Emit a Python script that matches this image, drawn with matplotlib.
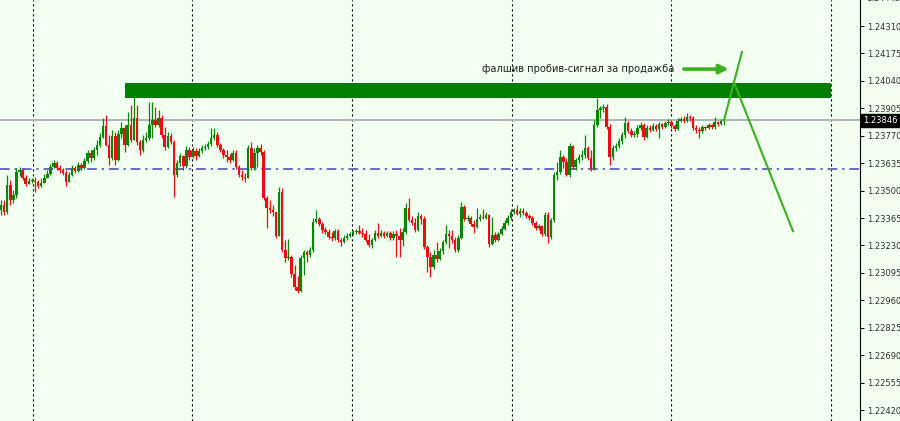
import matplotlib.pyplot as plt
import numpy as np

# bars, open of each bar = close of the previous one
first_open = 1.23404
closes = [
    1.23429, 1.23394, 1.23527, 1.23454, 1.23478, 1.23591, 1.23601, 1.23562, 1.23532, 1.23547,
    1.23547, 1.23542, 1.23522, 1.23537, 1.23562, 1.23582, 1.23616, 1.23636, 1.23611, 1.23601,
    1.23586, 1.23542, 1.23577, 1.23611, 1.23596, 1.23626, 1.23611, 1.23646, 1.23685, 1.23660,
    1.23700, 1.23724, 1.23764, 1.23818, 1.23724, 1.23660, 1.23769, 1.23650, 1.23778, 1.23808,
    1.23724, 1.23823, 1.23749, 1.23857, 1.23739, 1.23700, 1.23749, 1.23759, 1.23823, 1.23847,
    1.23823, 1.23857, 1.23774, 1.23714, 1.23769, 1.23739, 1.23577, 1.23636, 1.23670, 1.23621,
    1.23700, 1.23665, 1.23695, 1.23670, 1.23695, 1.23710, 1.23714, 1.23729, 1.23759, 1.23774,
    1.23724, 1.23700, 1.23675, 1.23665, 1.23650, 1.23685, 1.23616, 1.23577, 1.23567, 1.23562,
    1.23710, 1.23611, 1.23685, 1.23710, 1.23690, 1.23463, 1.23414, 1.23404, 1.23394, 1.23276,
    1.23493, 1.23207, 1.23168, 1.23173, 1.23089, 1.23025, 1.23006, 1.23168, 1.23198, 1.23183,
    1.23207, 1.23345, 1.23360, 1.23335, 1.23306, 1.23296, 1.23271, 1.23267, 1.23301, 1.23257,
    1.23247, 1.23267, 1.23276, 1.23286, 1.23296, 1.23301, 1.23291, 1.23286, 1.23257, 1.23232,
    1.23257, 1.23291, 1.23276, 1.23291, 1.23276, 1.23291, 1.23267, 1.23286, 1.23276, 1.23257,
    1.23296, 1.23414, 1.23355, 1.23340, 1.23306, 1.23375, 1.23360, 1.23222, 1.23173, 1.23124,
    1.23183, 1.23163, 1.23203, 1.23247, 1.23286, 1.23276, 1.23257, 1.23207, 1.23267, 1.23419,
    1.23360, 1.23365, 1.23335, 1.23321, 1.23360, 1.23370, 1.23365, 1.23380, 1.23237, 1.23281,
    1.23257, 1.23286, 1.23311, 1.23340, 1.23365, 1.23394, 1.23404, 1.23385, 1.23399, 1.23390,
    1.23375, 1.23365, 1.23340, 1.23316, 1.23326, 1.23286, 1.23380, 1.23271, 1.23355, 1.23577,
    1.23591, 1.23665, 1.23641, 1.23577, 1.23719, 1.23616, 1.23650, 1.23665, 1.23675, 1.23710,
    1.23660, 1.23606, 1.23823, 1.23897, 1.23906, 1.23911, 1.23813, 1.23665, 1.23710, 1.23719,
    1.23744, 1.23774, 1.23833, 1.23793, 1.23774, 1.23778, 1.23808, 1.23823, 1.23764, 1.23808,
    1.23798, 1.23818, 1.23803, 1.23828, 1.23813, 1.23833, 1.23838, 1.23818, 1.23803, 1.23842,
    1.23852, 1.23842, 1.23862, 1.23857, 1.23808, 1.23798, 1.23793, 1.23813, 1.23808, 1.23823,
    1.23813, 1.23838, 1.23828, 1.23842, 1.23846,
]
highs = [
    1.23454, 1.23454, 1.23577, 1.23552, 1.23503, 1.23611, 1.23616, 1.23611, 1.23577, 1.23562,
    1.23562, 1.23567, 1.23552, 1.23562, 1.23582, 1.23601, 1.23631, 1.23650, 1.23646, 1.23626,
    1.23611, 1.23601, 1.23591, 1.23626, 1.23621, 1.23641, 1.23636, 1.23660, 1.23700, 1.23700,
    1.23714, 1.23749, 1.23783, 1.23857, 1.23872, 1.23774, 1.23798, 1.23788, 1.23798, 1.23838,
    1.23823, 1.23887, 1.23921, 1.23970, 1.23921, 1.23749, 1.23774, 1.23788, 1.23936, 1.23936,
    1.23911, 1.23897, 1.23872, 1.23813, 1.23788, 1.23783, 1.23749, 1.23650, 1.23685, 1.23675,
    1.23719, 1.23714, 1.23714, 1.23710, 1.23710, 1.23724, 1.23729, 1.23744, 1.23808, 1.23808,
    1.23788, 1.23734, 1.23710, 1.23700, 1.23680, 1.23700, 1.23700, 1.23626, 1.23601, 1.23586,
    1.23724, 1.23739, 1.23710, 1.23724, 1.23729, 1.23700, 1.23473, 1.23454, 1.23429, 1.23394,
    1.23518, 1.23513, 1.23257, 1.23262, 1.23183, 1.23134, 1.23079, 1.23183, 1.23207, 1.23207,
    1.23222, 1.23365, 1.23404, 1.23370, 1.23345, 1.23321, 1.23311, 1.23296, 1.23311, 1.23311,
    1.23267, 1.23281, 1.23291, 1.23296, 1.23306, 1.23311, 1.23330, 1.23316, 1.23306, 1.23286,
    1.23267, 1.23306, 1.23340, 1.23306, 1.23301, 1.23301, 1.23301, 1.23301, 1.23306, 1.23316,
    1.23316, 1.23439, 1.23463, 1.23375, 1.23365, 1.23394, 1.23385, 1.23375, 1.23232, 1.23198,
    1.23207, 1.23247, 1.23217, 1.23257, 1.23330, 1.23306, 1.23306, 1.23271, 1.23281, 1.23444,
    1.23429, 1.23380, 1.23375, 1.23355, 1.23414, 1.23385, 1.23409, 1.23394, 1.23385, 1.23370,
    1.23296, 1.23296, 1.23326, 1.23355, 1.23380, 1.23409, 1.23414, 1.23429, 1.23414, 1.23414,
    1.23399, 1.23385, 1.23375, 1.23350, 1.23335, 1.23330, 1.23394, 1.23394, 1.23365, 1.23591,
    1.23641, 1.23700, 1.23675, 1.23660, 1.23734, 1.23724, 1.23660, 1.23680, 1.23700, 1.23774,
    1.23719, 1.23700, 1.23847, 1.23956, 1.23916, 1.23926, 1.23926, 1.23828, 1.23724, 1.23734,
    1.23759, 1.23788, 1.23862, 1.23842, 1.23808, 1.23793, 1.23823, 1.23838, 1.23833, 1.23823,
    1.23823, 1.23833, 1.23828, 1.23838, 1.23833, 1.23842, 1.23852, 1.23847, 1.23828, 1.23857,
    1.23862, 1.23867, 1.23882, 1.23872, 1.23867, 1.23823, 1.23813, 1.23823, 1.23818, 1.23833,
    1.23828, 1.23862, 1.23842, 1.23852, 1.23857,
]
lows = [
    1.23380, 1.23380, 1.23385, 1.23429, 1.23439, 1.23463, 1.23572, 1.23552, 1.23522, 1.23532,
    1.23537, 1.23493, 1.23513, 1.23518, 1.23542, 1.23567, 1.23577, 1.23611, 1.23601, 1.23586,
    1.23577, 1.23522, 1.23542, 1.23572, 1.23586, 1.23591, 1.23601, 1.23606, 1.23636, 1.23641,
    1.23650, 1.23675, 1.23714, 1.23759, 1.23719, 1.23626, 1.23650, 1.23626, 1.23646, 1.23759,
    1.23690, 1.23719, 1.23739, 1.23749, 1.23724, 1.23675, 1.23690, 1.23739, 1.23749, 1.23759,
    1.23813, 1.23813, 1.23759, 1.23700, 1.23710, 1.23729, 1.23468, 1.23567, 1.23621, 1.23601,
    1.23611, 1.23650, 1.23660, 1.23650, 1.23665, 1.23685, 1.23700, 1.23705, 1.23719, 1.23749,
    1.23714, 1.23690, 1.23660, 1.23641, 1.23636, 1.23646, 1.23606, 1.23567, 1.23552, 1.23542,
    1.23562, 1.23601, 1.23601, 1.23616, 1.23675, 1.23454, 1.23316, 1.23390, 1.23375, 1.23267,
    1.23276, 1.23198, 1.23148, 1.23158, 1.23075, 1.23011, 1.22996, 1.23001, 1.23084, 1.23148,
    1.23173, 1.23198, 1.23340, 1.23326, 1.23291, 1.23286, 1.23262, 1.23252, 1.23257, 1.23247,
    1.23227, 1.23242, 1.23257, 1.23271, 1.23281, 1.23286, 1.23286, 1.23271, 1.23247, 1.23222,
    1.23217, 1.23252, 1.23267, 1.23271, 1.23267, 1.23271, 1.23257, 1.23257, 1.23173, 1.23173,
    1.23227, 1.23286, 1.23345, 1.23330, 1.23296, 1.23301, 1.23335, 1.23212, 1.23099, 1.23075,
    1.23114, 1.23148, 1.23158, 1.23188, 1.23237, 1.23217, 1.23242, 1.23198, 1.23198, 1.23262,
    1.23350, 1.23350, 1.23326, 1.23291, 1.23316, 1.23350, 1.23360, 1.23360, 1.23222, 1.23232,
    1.23247, 1.23252, 1.23281, 1.23306, 1.23330, 1.23355, 1.23385, 1.23380, 1.23370, 1.23380,
    1.23365, 1.23355, 1.23330, 1.23306, 1.23306, 1.23276, 1.23276, 1.23242, 1.23262, 1.23345,
    1.23552, 1.23582, 1.23611, 1.23572, 1.23567, 1.23606, 1.23601, 1.23636, 1.23650, 1.23660,
    1.23650, 1.23596, 1.23601, 1.23813, 1.23857, 1.23887, 1.23803, 1.23626, 1.23650, 1.23695,
    1.23710, 1.23729, 1.23759, 1.23783, 1.23764, 1.23764, 1.23764, 1.23798, 1.23749, 1.23759,
    1.23788, 1.23793, 1.23793, 1.23759, 1.23803, 1.23808, 1.23823, 1.23808, 1.23793, 1.23798,
    1.23838, 1.23833, 1.23838, 1.23842, 1.23798, 1.23783, 1.23759, 1.23783, 1.23798, 1.23803,
    1.23803, 1.23803, 1.23818, 1.23823, 1.23823,
]

price_ticks = [1.22420, 1.22555, 1.22690, 1.22825, 1.22960, 1.23095, 1.23230, 1.23365,
               1.23500, 1.23635, 1.23770, 1.23905, 1.24040, 1.24175, 1.24310]
top_tick = 1.24445
last_price = 1.23846
support_level = 1.23606
zone_low, zone_high = 1.23961, 1.24029

# hand-drawn projection (bar index, price)
break_x, break_y = [234, 239.8], [1.23846, 1.24182]
drop_x, drop_y = [237.2, 256.3], [1.24034, 1.23301]
note_text = "фалшив пробив-сигнал за продажба"
note_x, note_y = 218, 1.24098
arrow_x = [221, 235.5]

BG = "#f0fff0"
BULL = "#0a850a"
BEAR = "#ec0c14"
LINE_GREEN = "#3db022"

assert len(closes) == len(highs) == len(lows)
c = np.array(closes)
o = np.array([first_open] + closes[:-1])
h = np.maximum(np.array(highs), np.maximum(o, c))
l = np.minimum(np.array(lows), np.minimum(o, c))
n = len(c)
x = np.arange(n)

fig = plt.figure(figsize=(9, 4.21), dpi=100, facecolor=BG)
ax = fig.add_axes([0, 0, 860 / 900, 1])
ax.set_facecolor(BG)

step = 723 / (n - 1)  # pixels per bar
ax.set_xlim(-1 / step, 859 / step)
ax.set_ylim(1.22366, 1.24438)

# dotted period separators
for px in [33, 192, 352, 512, 671, 831]:
    ax.axvline((px - 1) / step, color="black", lw=0.8, ls=(0, (2, 2.5)), zorder=1)

ax.axhline(last_price, color="#b2b2ba", lw=1.4, zorder=2)
ax.axhline(support_level, color="#6a6ac2", lw=1.4, ls=(0, (5, 2.5, 1.2, 2.5)), zorder=2)

up = c >= o
cols = np.where(up, BULL, BEAR)
ax.vlines(x, l, h, colors=cols, lw=0.9, zorder=3)
body = np.maximum(np.abs(c - o), 0.00003)
ax.bar(x, body, bottom=np.minimum(o, c), width=0.82, color=cols, lw=0, zorder=3)

ax.axhspan(zone_low, zone_high, xmin=125 / 860, xmax=830 / 860,
           facecolor="#008000", edgecolor="#006400", lw=0.6, zorder=4)

ax.plot(break_x, break_y, color=LINE_GREEN, lw=1.5, zorder=5)
ax.plot(drop_x, drop_y, color=LINE_GREEN, lw=1.5, zorder=5)

ax.annotate("", xy=(arrow_x[1], note_y), xytext=(arrow_x[0], note_y),
            arrowprops=dict(arrowstyle="-|>", color=LINE_GREEN, lw=2.6,
                            mutation_scale=13, shrinkA=0, shrinkB=0), zorder=5)
ax.text(note_x, note_y, note_text, ha="right", va="center", fontsize=7.1,
        color="#222222", family="DejaVu Sans", zorder=5)

# price scale on the right
for s in ["left", "top", "bottom"]:
    ax.spines[s].set_visible(False)
ax.spines["right"].set_color("black")
ax.spines["right"].set_linewidth(0.8)
ax.set_xticks([])
ax.yaxis.tick_right()
ax.set_yticks(price_ticks)
ax.set_yticklabels([f"{t:.5f}" for t in price_ticks])
ax.tick_params(axis="y", direction="out", length=3, width=0.7, pad=2,
               labelsize=6, labelcolor="#333333")
for lab in ax.get_yticklabels():
    lab.set_family("DejaVu Sans")

ytr = ax.get_yaxis_transform()
ax.text(1.0075, top_tick, f"{top_tick:.5f}", transform=ytr, fontsize=6,
        color="#333333", va="center", ha="left", clip_on=False)
ax.text(1.004, last_price, f"{last_price:.5f}", transform=ytr, fontsize=6,
        color="white", va="center", ha="left", clip_on=False, zorder=6,
        bbox=dict(boxstyle="square,pad=0.25", fc="black", ec="black"))

fig.savefig("out.png", dpi=100, facecolor=BG)
